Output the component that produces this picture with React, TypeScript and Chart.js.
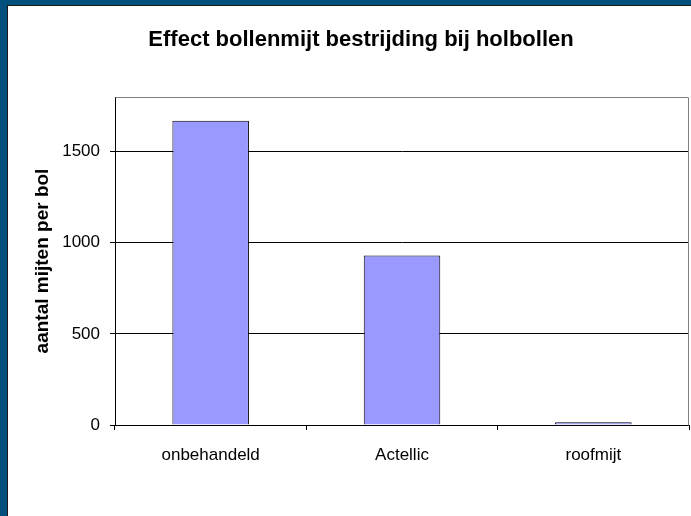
import { useEffect, useRef } from "react";
import { Chart, registerables } from "chart.js";

Chart.register(...registerables);

const categories = ["onbehandeld", "Actellic", "roofmijt"];
const values = [1670, 930, 15];
const yTicks = [0, 500, 1000, 1500];
const yMax = 1800;
const chartTitle = "Effect bollenmijt bestrijding bij holbollen";
const yTitle = "aantal mijten per bol";

const FONT = "'Liberation Sans', Arial, sans-serif";

const plotBorder = {
  id: "plotBorder",
  afterDraw(chart: any) {
    const { ctx, chartArea } = chart;
    const { left, right, top, bottom } = chartArea;
    ctx.save();
    ctx.strokeStyle = "#808080";
    ctx.lineWidth = 1;
    ctx.beginPath();
    ctx.moveTo(Math.round(left) + 0.5, Math.round(top) + 0.5);
    ctx.lineTo(Math.round(right) - 0.5, Math.round(top) + 0.5);
    ctx.lineTo(Math.round(right) - 0.5, Math.round(bottom) + 0.5);
    ctx.stroke();
    ctx.restore();
  },
};

export default function App() {
  const ref = useRef<HTMLCanvasElement | null>(null);

  useEffect(() => {
    if (!ref.current) return;
    const chart = new Chart(ref.current, {
      type: "bar",
      data: {
        labels: categories,
        datasets: [
          {
            data: values,
            backgroundColor: "#9999ff",
            borderColor: "#000000",
            borderWidth: 1,
            barPercentage: 1,
            categoryPercentage: 0.4,
          },
        ],
      },
      options: {
        animation: false,
        responsive: false,
        devicePixelRatio: 1,
        layout: { padding: { left: 0, right: 2, top: 0, bottom: 0 } },
        plugins: {
          legend: { display: false },
          tooltip: { enabled: false },
          title: {
            display: true,
            text: chartTitle,
            color: "#000000",
            font: { family: FONT, size: 22, weight: "bold" },
            padding: { top: 27, bottom: 43.6 },
          },
        },
        scales: {
          x: {
            offset: true,
            grid: {
              display: true,
              drawOnChartArea: false,
              offset: true,
              tickLength: 5,
              color: "#000000",
            },
            border: { display: true, color: "#000000" },
            ticks: {
              color: "#000000",
              font: { family: FONT, size: 17 },
              padding: 15,
              maxRotation: 0,
            },
            afterFit(scale: any) {
              scale.height = 91;
            },
          },
          y: {
            min: 0,
            max: yMax,
            grid: { color: "#000000", tickLength: 5 },
            border: { display: true, color: "#000000" },
            ticks: {
              color: "#000000",
              font: { family: FONT, size: 17 },
              padding: 10,
              callback: (v: any) => String(v),
            },
            afterBuildTicks(scale: any) {
              scale.ticks = yTicks.map((v) => ({ value: v }));
            },
            afterFit(scale: any) {
              scale.width = 82;
            },
            title: {
              display: true,
              text: yTitle,
              color: "#000000",
              font: { family: FONT, size: 19, weight: "bold", lineHeight: 1 },
              padding: { top: 0, bottom: 0 },
            },
          },
        },
      },
      plugins: [plotBorder],
    });
    return () => chart.destroy();
  }, []);

  return (
    <div
      style={{
        position: "fixed",
        left: 0,
        top: 0,
        width: 691,
        height: 516,
        background: "#014f7d",
        overflow: "hidden",
      }}
    >
      <div
        style={{
          position: "absolute",
          left: 7,
          top: 5,
          right: 0,
          bottom: 0,
          background: "#ffffff",
          borderTop: "1px solid #1a1a1a",
          borderLeft: "1px solid #1a1a1a",
        }}
      />
      <canvas
        ref={ref}
        width={658}
        height={516}
        style={{ position: "absolute", left: 33, top: 0, width: 658, height: 516 }}
      />
    </div>
  );
}
